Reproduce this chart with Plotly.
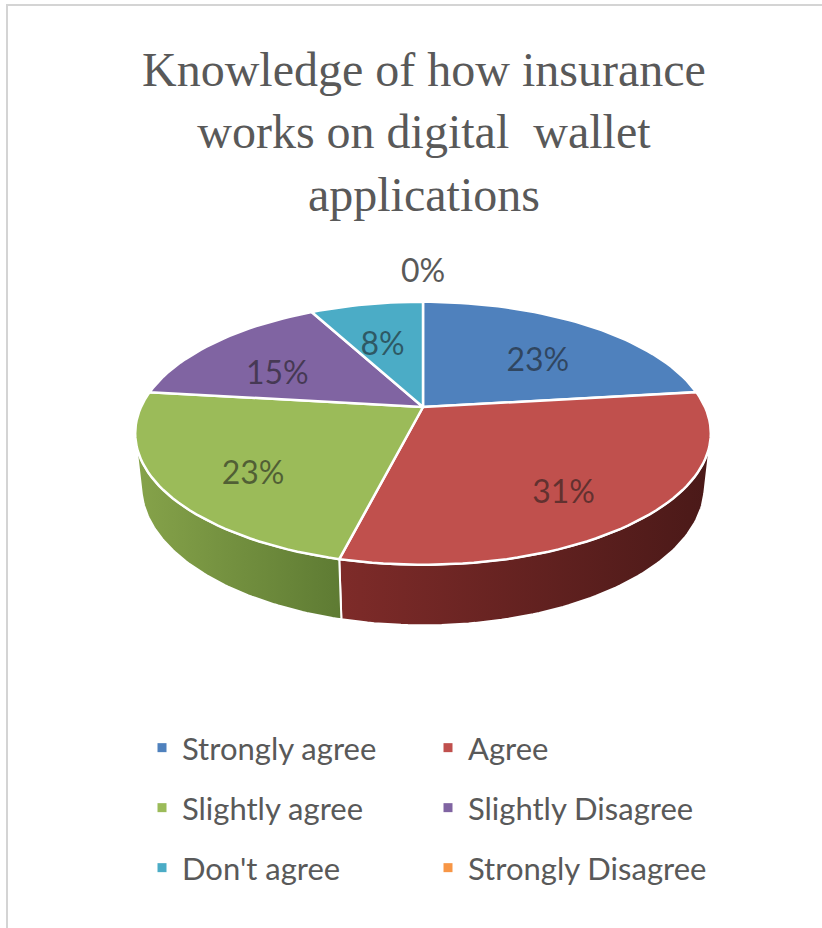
import numpy as np
import plotly.graph_objects as go

# ---------------- data ----------------
categories = ["Strongly agree", "Agree", "Slightly agree", "Slightly Disagree",
              "Don't agree", "Strongly Disagree"]
counts = [3, 4, 3, 2, 1, 0]
top_colors = ["#4f81bd", "#c0504d", "#9bbb59", "#8064a2", "#4bacc6", "#f79646"]
side_light = ["#3f6a9e", "#7e2b29", "#86a34a", "#674f86", "#3a8fa6", "#c8742f"]
side_dark = ["#2c4c73", "#4a1918", "#5e7b33", "#4a3862", "#286a7c", "#94531f"]
title_text = "Knowledge of how insurance<br>works on digital  wallet<br>applications"

# ---------------- geometry (3D perspective projection) ----------------
W, H = 822, 928
CX, CY = 423, 407
phi = np.radians(26.6)
cphi, sphi = np.cos(phi), np.sin(phi)
DIST = 5 * cphi
FOC = 282 * DIST
THICK = 0.21


def project(X, Y, Z):
    depth = DIST + Y * cphi - Z * sphi
    v = Y * sphi + Z * cphi
    return CX + FOC * X / depth, CY - FOC * v / depth


vals = np.array(counts, dtype=float)
fracs = vals / vals.sum()
ends = np.cumsum(fracs) * 2 * np.pi
starts = ends - fracs * 2 * np.pi

th_min = np.arccos(-1.0 / (DIST * cphi))
th_max = 2 * np.pi - th_min

fig = go.Figure()

# side walls
for i in range(len(counts)):
    a, b = max(starts[i], th_min), min(ends[i], th_max)
    if b <= a:
        continue
    th = np.linspace(a, b, 80)
    xt, yt = project(np.sin(th), np.cos(th), 0.0)
    xb, yb = project(np.sin(th), np.cos(th), -THICK)
    xs = np.concatenate([xt, xb[::-1], xt[:1]])
    ys = np.concatenate([yt, yb[::-1], yt[:1]])
    fig.add_trace(go.Scatter(
        x=xs, y=ys, mode="lines", fill="toself",
        fillgradient=dict(type="horizontal",
                          colorscale=[[0, side_light[i]], [1, side_dark[i]]]),
        line=dict(color="white", width=2), showlegend=False, hoverinfo="skip"))

# top faces
for i in range(len(counts)):
    if fracs[i] <= 0:
        continue
    th = np.linspace(starts[i], ends[i], max(3, int(200 * fracs[i])))
    xa, ya = project(np.sin(th), np.cos(th), 0.0)
    xs = np.concatenate([[CX], xa, [CX]])
    ys = np.concatenate([[CY], ya, [CY]])
    fig.add_trace(go.Scatter(
        x=xs, y=ys, mode="lines", fill="toself", fillcolor=top_colors[i],
        line=dict(color="white", width=2.5), showlegend=False, hoverinfo="skip"))

# data labels
lx, ly, lt, lc = [], [], [], []
for i in range(len(counts)):
    mid = (starts[i] + ends[i]) / 2
    if fracs[i] > 0:
        px, py = project(0.68 * np.sin(mid), 0.68 * np.cos(mid), -0.06)
        lc.append("rgba(25,25,25,0.58)")
    else:
        px, py = project(1.33 * np.sin(mid), 1.33 * np.cos(mid), 0.0)
        lc.append("#595959")
    lx.append(px)
    ly.append(py)
    lt.append(f"{round(100 * fracs[i])}%")
fig.add_trace(go.Scatter(x=lx, y=ly, text=lt, mode="text",
                         textfont=dict(family="Lato", size=32, color=lc),
                         showlegend=False, hoverinfo="skip"))

# legend entries
legend_ids = ["legend", "legend", "legend2", "legend2", "legend3", "legend3"]
for i, name in enumerate(categories):
    fig.add_trace(go.Scatter(x=[None], y=[None], mode="markers", name=name,
                             marker=dict(symbol="square", size=9, color=top_colors[i]),
                             legend=legend_ids[i], hoverinfo="skip"))

leg_common = dict(orientation="h", x=142 / W, xanchor="left", yanchor="middle",
                  entrywidth=241, entrywidthmode="pixels", bgcolor="rgba(0,0,0,0)",
                  font=dict(family="Lato", size=31, color="#595959"))
row_y = [748, 808, 868]

fig.update_layout(
    width=W, height=H, margin=dict(l=0, r=0, t=0, b=0),
    paper_bgcolor="white", plot_bgcolor="white",
    xaxis=dict(range=[0, W], visible=False, fixedrange=True),
    yaxis=dict(range=[H, 0], visible=False, fixedrange=True),
    legend=dict(y=1 - row_y[0] / H, **leg_common),
    legend2=dict(y=1 - row_y[1] / H, **leg_common),
    legend3=dict(y=1 - row_y[2] / H, **leg_common),
    annotations=[dict(text=title_text, x=424 / W, y=1 - 132 / H, xref="paper", yref="paper",
                      xanchor="center", yanchor="middle", showarrow=False,
                      font=dict(family="Liberation Serif", size=48, color="#595959"))],
    shapes=[dict(type="rect", xref="paper", yref="paper", x0=7 / W, y0=-0.05,
                 x1=1.05, y1=1 - 5 / H, line=dict(color="#d4d4d4", width=2),
                 fillcolor="rgba(0,0,0,0)", layer="below")],
    hovermode=False,
)

fig.write_html("out.html")
